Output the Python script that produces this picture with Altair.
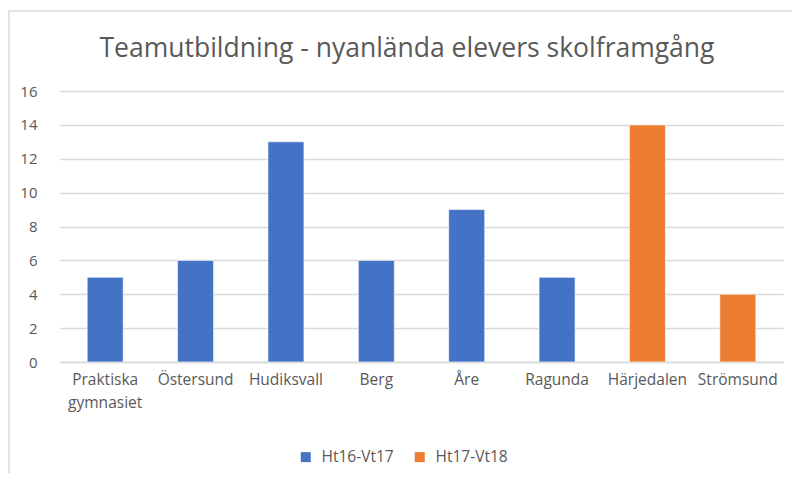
import altair as alt
import pandas as pd

title_text = "Teamutbildning - nyanlända elevers skolframgång"
categories = ["Praktiska\ngymnasiet", "Östersund", "Hudiksvall", "Berg", "Åre",
              "Ragunda", "Härjedalen", "Strömsund"]
values = [5, 6, 13, 6, 9, 5, 14, 4]
series = ["Ht16-Vt17"] * 6 + ["Ht17-Vt18"] * 2
series_names = ["Ht16-Vt17", "Ht17-Vt18"]
series_colors = ["#4472C4", "#ED7D31"]
y_ticks = [0, 2, 4, 6, 8, 10, 12, 14, 16]

df = pd.DataFrame({"kategori": categories, "antal": values, "serie": series})

FONT = "Open Sans"
GREY = "#595959"

bars = alt.Chart(df).mark_bar(size=36, stroke="white", strokeWidth=0.6).encode(
    x=alt.X("kategori:N", sort=categories, title=None,
            scale=alt.Scale(paddingInner=0, paddingOuter=0),
            axis=alt.Axis(labelAngle=0, labelExpr="split(datum.label, '\\n')",
                          labelLineHeight=23, labelPadding=10, ticks=False,
                          domainColor="#d9d9d9", domainWidth=1.5,
                          labelFont=FONT, labelFontSize=15.5, labelColor=GREY,
                          labelBaseline="top")),
    y=alt.Y("antal:Q", title=None,
            scale=alt.Scale(domain=[0, 16], nice=False),
            axis=alt.Axis(values=y_ticks, ticks=False, domain=False,
                          gridColor="#d9d9d9", gridWidth=1.5,
                          labelFont=FONT, labelFontSize=15, labelColor=GREY,
                          labelPadding=23)),
    color=alt.Color("serie:N", title=None,
                    scale=alt.Scale(domain=series_names, range=series_colors),
                    legend=alt.Legend(orient="none", direction="horizontal",
                                      legendX=238, legendY=358,
                                      symbolType="square", symbolSize=100,
                                      symbolStrokeWidth=0, columnPadding=18,
                                      labelFont=FONT, labelFontSize=15.5,
                                      labelColor=GREY, labelOffset=8))
)

frame = alt.Chart(pd.DataFrame({"a": [0]})).mark_rect(
    fill=None, stroke="#d9d9d9", strokeWidth=1.5
).encode(x=alt.value(-51), x2=alt.value(760), y=alt.value(-80), y2=alt.value(420))

title = alt.Chart(pd.DataFrame({"t": [title_text]})).mark_text(
    font=FONT, fontSize=26.5, color=GREY, align="center", baseline="alphabetic"
).encode(x=alt.value(347), y=alt.value(-34), text="t:N")

chart = alt.layer(frame, bars, title).properties(
    width=723, height=271,
    autosize="none",
    padding={"left": 52, "top": 83, "right": 9, "bottom": 111},
).configure_view(stroke=None)

chart.save("out.html", embed_options={"renderer": "svg", "actions": False})
